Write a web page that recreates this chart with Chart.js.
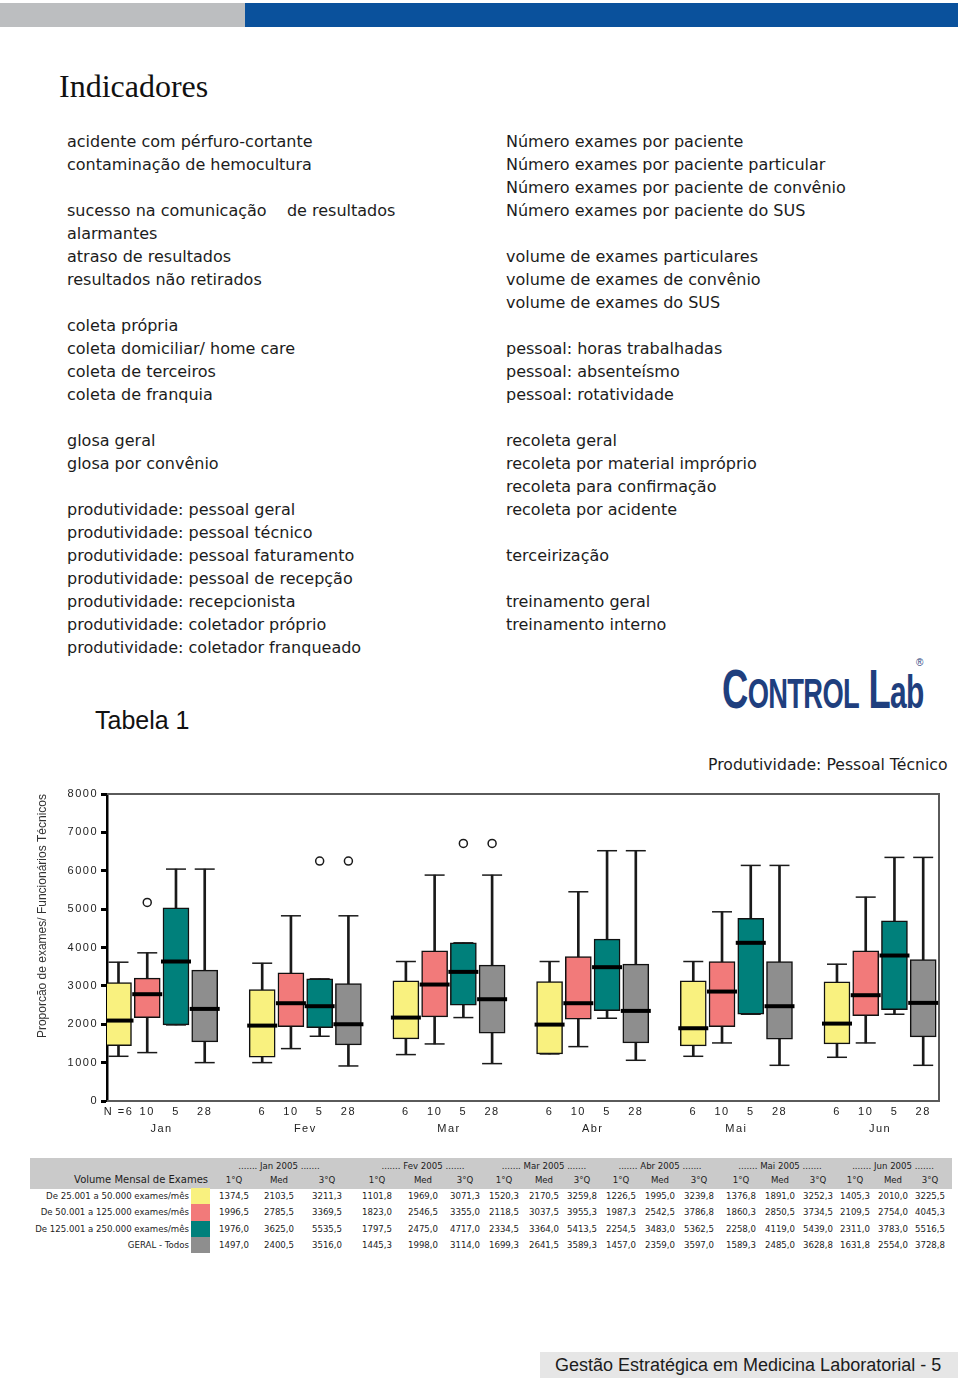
<!DOCTYPE html>
<html lang="pt">
<head>
<meta charset="utf-8">
<title>Indicadores</title>
<script src="https://cdn.jsdelivr.net/npm/chart.js@4.4.1/dist/chart.umd.min.js"></script>
<style>
  html, body { margin: 0; padding: 0; background: #fff; }
  body { width: 960px; height: 1378px; position: relative; overflow: hidden; font-family: 'DejaVu Sans', sans-serif; color: #1c1c1c; }
  .abs { position: absolute; }
  .list { position: absolute; top: 130px; font-size: 16px; line-height: 23px; }
  .list div { height: 23px; white-space: pre; }
  .tbl { position: absolute; font-size: 8.6px; line-height: 16px; white-space: nowrap; color: #1c1c1c; }
</style>
</head>
<body>
<div class="abs" style="left:0;top:3px;width:245px;height:24px;background:#bcbec0"></div>
<div class="abs" style="left:245px;top:3px;width:713px;height:24px;background:#0a519c"></div>

<div class="abs" style="left:59px;top:70px;font-family:'Liberation Serif',serif;font-size:32px;line-height:32px;color:#111">Indicadores</div>

<div class="list" style="left:67px">
<div>acidente com pérfuro-cortante</div>
<div>contaminação de hemocultura</div>
<div></div>
<div>sucesso na comunicação    de resultados</div>
<div>alarmantes</div>
<div>atraso de resultados</div>
<div>resultados não retirados</div>
<div></div>
<div>coleta própria</div>
<div>coleta domiciliar/ home care</div>
<div>coleta de terceiros</div>
<div>coleta de franquia</div>
<div></div>
<div>glosa geral</div>
<div>glosa por convênio</div>
<div></div>
<div>produtividade: pessoal geral</div>
<div>produtividade: pessoal técnico</div>
<div>produtividade: pessoal faturamento</div>
<div>produtividade: pessoal de recepção</div>
<div>produtividade: recepcionista</div>
<div>produtividade: coletador próprio</div>
<div>produtividade: coletador franqueado</div>
</div>

<div class="list" style="left:506px">
<div>Número exames por paciente</div>
<div>Número exames por paciente particular</div>
<div>Número exames por paciente de convênio</div>
<div>Número exames por paciente do SUS</div>
<div></div>
<div>volume de exames particulares</div>
<div>volume de exames de convênio</div>
<div>volume de exames do SUS</div>
<div></div>
<div>pessoal: horas trabalhadas</div>
<div>pessoal: absenteísmo</div>
<div>pessoal: rotatividade</div>
<div></div>
<div>recoleta geral</div>
<div>recoleta por material impróprio</div>
<div>recoleta para confirmação</div>
<div>recoleta por acidente</div>
<div></div>
<div>terceirização</div>
<div></div>
<div>treinamento geral</div>
<div>treinamento interno</div>
</div>

<div class="abs" style="left:95px;top:705px;font-family:'Liberation Sans',sans-serif;font-size:25px;line-height:30px;color:#111">Tabela 1</div>

<div class="abs" style="left:722px;top:658px;font-family:'Liberation Sans Narrow','Liberation Sans',sans-serif;font-weight:bold;color:#1f3f7e;font-size:56px;line-height:62px;white-space:nowrap;transform:scaleX(0.65);transform-origin:left top;letter-spacing:-1px">C<span style="font-size:42px">ONTROL</span> L<span style="font-size:46px">ab</span></div>
<div class="abs" style="left:916px;top:657px;font-family:'Liberation Sans',sans-serif;font-size:10px;color:#1f3f7e">®</div>

<div class="abs" style="left:708px;top:755px;font-size:15.7px;line-height:20px;color:#1c1c1c;white-space:nowrap">Produtividade: Pessoal Técnico</div>

<canvas id="chart" class="abs" width="960" height="375" style="left:0;top:775px"></canvas>

<div class="abs" style="left:30px;top:1158px;width:922px;height:31px;background:#cacaca"></div>
<div id="table"></div>

<div class="abs" style="left:540px;top:1352px;width:418px;height:26px;background:#e6e6e6"></div>
<div class="abs" style="left:555px;top:1353px;font-family:'Liberation Sans',sans-serif;font-size:18px;line-height:24px;color:#1c1c1c;white-space:nowrap">Gestão Estratégica em Medicina Laboratorial - 5</div>

<script>
// meses e grupos de volume
const months = ['Jan', 'Fev', 'Mar', 'Abr', 'Mai', 'Jun'];
const groupNames = ['De 25.001 a 50.000 exames/mês', 'De 50.001 a 125.000 exames/mês', 'De 125.001 a 250.000 exames/mês', 'GERAL - Todos'];
const groupN = [6, 10, 5, 28];

// valores (uma linha por grupo, um valor por mês)
const whiskerLow = [
  [1165, 1000, 1209, 1226, 1165, 1139],
  [1261, 1365, 1487, 1417, 1513, 1513],
  [1983, 1687, 2174, 2157, 2261, 2261],
  [1000, 913, 974, 1061, 930, 930]
];
const quartile1 = [
  [1443, 1139, 1617, 1226, 1435, 1487],
  [2174, 1939, 2191, 2130, 1939, 2226],
  [1983, 1913, 2496, 2357, 2261, 2383],
  [1539, 1461, 1765, 1513, 1609, 1670]
];
const medians = [
  [2096, 1965, 2174, 1991, 1896, 2017],
  [2783, 2548, 3035, 2548, 2852, 2757],
  [3635, 2470, 3365, 3487, 4122, 3791],
  [2400, 2000, 2652, 2348, 2470, 2557]
];
const quartile3 = [
  [3087, 2904, 3130, 3113, 3130, 3104],
  [3200, 3339, 3913, 3765, 3635, 3913],
  [5035, 3183, 4122, 4217, 4757, 4696],
  [3409, 3061, 3539, 3565, 3635, 3687]
];
const whiskerHigh = [
  [3617, 3591, 3635, 3635, 3635, 3565],
  [3861, 4826, 5887, 5452, 4930, 5313],
  [6043, 3183, 4122, 6522, 6139, 6348],
  [6043, 4826, 5887, 6522, 6139, 6348]
];
// pontos extremos (círculos)
const outlierMonth = [0, 1, 1, 2, 2];
const outlierGroup = [1, 2, 3, 2, 3];
const outlierValue = [5174, 6252, 6252, 6713, 6713];

const yTicks = [0, 1000, 2000, 3000, 4000, 5000, 6000, 7000, 8000];

// tabela 1
const tableMonths = ['Jan 2005', 'Fev 2005', 'Mar 2005', 'Abr 2005', 'Mai 2005', 'Jun 2005'];
const tableCols = ['1°Q', 'Med', '3°Q'];
const tableRows = [
  ['1374,5', '2103,5', '3211,3', '1101,8', '1969,0', '3071,3', '1520,3', '2170,5', '3259,8', '1226,5', '1995,0', '3239,8', '1376,8', '1891,0', '3252,3', '1405,3', '2010,0', '3225,5'],
  ['1996,5', '2785,5', '3369,5', '1823,0', '2546,5', '3355,0', '2118,5', '3037,5', '3955,3', '1987,3', '2542,5', '3786,8', '1860,3', '2850,5', '3734,5', '2109,5', '2754,0', '4045,3'],
  ['1976,0', '3625,0', '5535,5', '1797,5', '2475,0', '4717,0', '2334,5', '3364,0', '5413,5', '2254,5', '3483,0', '5362,5', '2258,0', '4119,0', '5439,0', '2311,0', '3783,0', '5516,5'],
  ['1497,0', '2400,5', '3516,0', '1445,3', '1998,0', '3114,0', '1699,3', '2641,5', '3589,3', '1457,0', '2359,0', '3597,0', '1589,3', '2485,0', '3628,8', '1631,8', '2554,0', '3728,8']
];

const boxColors = ['#f9f17f', '#f27a7a', '#00807b', '#8e8e8e'];
const colCenters = [234, 279, 327, 377, 423, 465, 504, 544, 582, 621, 660, 699, 741, 780, 818, 855, 893, 930];

// posição de cada caixa no eixo x: 4 caixas por mês + 1 espaço
const slot = (m, g) => m * 5 + g;

// monta a tabela
const table = document.getElementById('table');
function cell(text, left, top, width, align, extra) {
  const d = document.createElement('div');
  d.className = 'tbl';
  d.textContent = text;
  d.style.left = left + 'px';
  d.style.top = top + 'px';
  d.style.width = width + 'px';
  d.style.textAlign = align;
  if (extra) Object.assign(d.style, extra);
  table.appendChild(d);
}
tableMonths.forEach((m, i) => {
  cell('....... ' + m + ' .......', colCenters[i * 3 + 1] - 60, 1158, 120, 'center');
  tableCols.forEach((c, j) => cell(c, colCenters[i * 3 + j] - 20, 1172, 40, 'center'));
});
cell('Volume Mensal de Exames', 40, 1172, 168, 'right', { fontSize: '10px' });
groupNames.forEach((name, g) => {
  const top = 1188 + g * 16.3;
  cell(name, 20, top, 169, 'right');
  const sw = document.createElement('div');
  sw.className = 'abs';
  Object.assign(sw.style, { left: '191px', top: top + 'px', width: '19px', height: '16.5px', background: boxColors[g] });
  table.appendChild(sw);
  tableRows[g].forEach((v, k) => cell(v, colCenters[k] - 22, top, 44, 'center'));
});

// datasets do boxplot
const whiskerData = [];
const capData = [];
const medianData = [];
groupNames.forEach((_, g) => {
  months.forEach((_, m) => {
    whiskerData.push({ x: slot(m, g), y: [whiskerLow[g][m], whiskerHigh[g][m]] });
    capData.push({ x: slot(m, g), y: whiskerLow[g][m] });
    capData.push({ x: slot(m, g), y: whiskerHigh[g][m] });
    medianData.push({ x: slot(m, g), y: medians[g][m] });
  });
});
const outlierData = outlierValue.map((v, i) => ({ x: slot(outlierMonth[i], outlierGroup[i]), y: v }));

const boxSets = groupNames.map((name, g) => ({
  type: 'bar',
  label: name,
  data: months.map((_, m) => ({ x: slot(m, g), y: [quartile1[g][m], quartile3[g][m]] })),
  backgroundColor: boxColors[g],
  borderColor: '#111',
  borderWidth: 1.5,
  borderSkipped: false,
  barThickness: 26,
  grouped: false,
  order: 4
}));

const tickSlots = [];
months.forEach((_, m) => groupN.forEach((_, g) => tickSlots.push(slot(m, g))));
const monthSlots = months.map((_, m) => slot(m, 1.5));

const xMin = -0.4;
const xMax = 28.55;

const frame = {
  id: 'frame',
  beforeDraw(chart) {
    chart.ctx.letterSpacing = '1.5px';
  },
  afterLayout(chart) {
    // o título do eixo y sem espaçamento extra
    const s = chart.scales.y;
    if (!s._plainTitle) {
      const orig = s.drawTitle;
      s.drawTitle = function () {
        const c = this.ctx;
        const prev = c.letterSpacing;
        c.letterSpacing = '0px';
        orig.call(this);
        c.letterSpacing = prev;
      };
      s._plainTitle = true;
    }
  },
  beforeDatasetsDraw(chart) {
    const { ctx, chartArea: a } = chart;
    ctx.save();
    ctx.strokeStyle = '#5a5a5a';
    ctx.lineWidth = 2;
    ctx.beginPath();
    ctx.moveTo(a.left, a.top);
    ctx.lineTo(a.right, a.top);
    ctx.lineTo(a.right, a.bottom);
    ctx.lineTo(a.left, a.bottom);
    ctx.stroke();
    ctx.restore();
  }
};

new Chart(document.getElementById('chart'), {
  type: 'bar',
  data: {
    datasets: [
      {
        type: 'bar',
        label: 'whiskers',
        data: whiskerData,
        backgroundColor: '#1a1a1a',
        borderWidth: 0,
        barThickness: 2,
        grouped: false,
        order: 5
      },
      ...boxSets,
      {
        type: 'scatter',
        label: 'caps',
        data: capData,
        pointStyle: 'line',
        pointRadius: 10,
        borderWidth: 1.5,
        borderColor: '#1a1a1a',
        order: 3
      },
      {
        type: 'scatter',
        label: 'medianas',
        data: medianData,
        pointStyle: 'line',
        pointRadius: 15,
        borderWidth: 4,
        borderColor: '#000',
        order: 2
      },
      {
        type: 'scatter',
        label: 'extremos',
        data: outlierData,
        pointStyle: 'circle',
        pointRadius: 4,
        borderWidth: 1.5,
        borderColor: '#1a1a1a',
        backgroundColor: '#fff',
        order: 1
      }
    ]
  },
  options: {
    responsive: false,
    animation: false,
    events: [],
    layout: { padding: { left: 31, top: 14, right: 21, bottom: 1 } },
    plugins: {
      legend: { display: false },
      tooltip: { enabled: false }
    },
    scales: {
      x: {
        type: 'linear',
        position: 'bottom',
        weight: 0,
        min: xMin,
        max: xMax,
        offset: false,
        grid: { display: false, drawTicks: false },
        border: { display: false },
        afterBuildTicks: (s) => { s.ticks = tickSlots.map((v) => ({ value: v })); },
        afterFit: (s) => { s.height = 18; },
        ticks: {
          autoSkip: false,
          maxRotation: 0,
          padding: 4,
          color: '#222',
          font: { family: 'Liberation Sans', size: 11 },
          callback: (v) => {
            const g = Math.round(v) % 5;
            return Math.round(v) === 0 ? 'N =' + groupN[0] : String(groupN[g]);
          }
        }
      },
      x2: {
        type: 'linear',
        position: 'bottom',
        weight: 1,
        min: xMin,
        max: xMax,
        offset: false,
        grid: { display: false, drawTicks: false },
        border: { display: false },
        afterBuildTicks: (s) => { s.ticks = monthSlots.map((v) => ({ value: v })); },
        afterFit: (s) => { s.height = 30; },
        ticks: {
          autoSkip: false,
          maxRotation: 0,
          padding: 3,
          color: '#222',
          font: { family: 'Liberation Sans', size: 11 },
          callback: (v) => months[Math.round((v - 1.5) / 5)]
        }
      },
      y: {
        type: 'linear',
        min: 0,
        max: 8000,
        afterBuildTicks: (s) => { s.ticks = yTicks.map((v) => ({ value: v })); },
        afterFit: (s) => { s.width = 76; },
        grid: { drawOnChartArea: false, drawTicks: true, tickLength: 6, tickWidth: 3, tickColor: '#000' },
        border: { color: '#000', width: 2.5 },
        ticks: {
          padding: 3,
          color: '#222',
          font: { family: 'Liberation Sans', size: 11 },
          callback: (v) => String(v)
        },
        title: {
          display: true,
          align: 'end',
          text: 'Proporcão de exames/ Funcionários Técnicos',
          color: '#333',
          padding: { top: 4, bottom: 0 },
          font: { family: 'Liberation Sans', size: 12 }
        }
      }
    }
  },
  plugins: [frame]
});
</script>
</body>
</html>
